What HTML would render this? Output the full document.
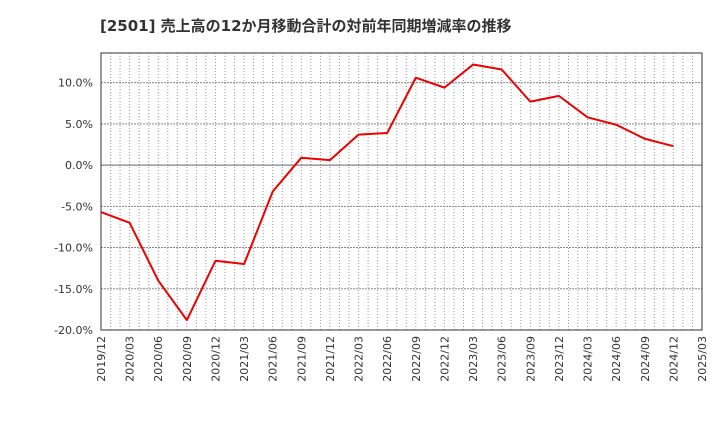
<!DOCTYPE html>
<html><head><meta charset="utf-8"><style>
body{margin:0;background:#fff;font-family:"DejaVu Sans","Noto Sans CJK JP",sans-serif}
</style></head><body>
<svg id="c" width="720" height="440" xmlns="http://www.w3.org/2000/svg">
<text x="100" y="31" font-size="15" font-weight="bold" fill="#333" font-family="DejaVu Sans, Noto Sans CJK JP, sans-serif">[2501]  売上高の12か月移動合計の対前年同期増減率の推移</text>
</svg>
<script>
const categories=["2019/12","2020/03","2020/06","2020/09","2020/12","2021/03","2021/06","2021/09","2021/12","2022/03","2022/06","2022/09","2022/12","2023/03","2023/06","2023/09","2023/12","2024/03","2024/06","2024/09","2024/12","2025/03"];
const values=[-5.7,-7.0,-14.0,-18.8,-11.6,-12.0,-3.2,0.9,0.6,3.7,3.9,10.6,9.4,12.2,11.6,7.7,8.4,5.8,4.9,3.2,2.3];
const yTicks=[10,5,0,-5,-10,-15,-20];
const NS="http://www.w3.org/2000/svg",svg=document.getElementById("c");
const L=101,R=702,T=53,B=330,yMin=-20,yMax=13.6;
const x=i=>L+(R-L)*i/(categories.length-1);
const y=v=>B-(v-yMin)/(yMax-yMin)*(B-T);
function mk(t,a){const e=document.createElementNS(NS,t);for(const k in a)e.setAttribute(k,a[k]);svg.appendChild(e);return e;}
const months=(categories.length-1)*3;
for(let m=1;m<months;m++){const xx=L+(R-L)*m/months;
const g=mk("line",{x1:xx,x2:xx,y1:T,y2:B,stroke:"#999","stroke-width":1,"stroke-dasharray":"1,2"});

}
yTicks.forEach(v=>{const yy=y(v);
const g=mk("line",{x1:L,x2:R,y1:yy,y2:yy,stroke:v===0?"#666":"#888","stroke-width":1,"stroke-dasharray":v===0?"":"2,1"});


const t=mk("text",{x:L-8,y:yy+4,"text-anchor":"end","font-size":11,fill:"#333","font-family":"DejaVu Sans, sans-serif"});t.textContent=v.toFixed(1)+"%";

});
const fr=mk("rect",{x:L,y:T,width:R-L,height:B-T,fill:"none",stroke:"#333","stroke-width":1});


categories.forEach((c,i)=>{const t=mk("text",{transform:`translate(${x(i)+4},${B+6}) rotate(-90)`,"text-anchor":"end","font-size":11,fill:"#333","font-family":"DejaVu Sans, sans-serif"});t.textContent=c;

});
const p=mk("polyline",{points:values.map((v,i)=>x(i)+","+y(v)).join(" "),fill:"none",stroke:"#e00",
"stroke-width":2,"stroke-linejoin":"round"});


</script>
</body></html>
